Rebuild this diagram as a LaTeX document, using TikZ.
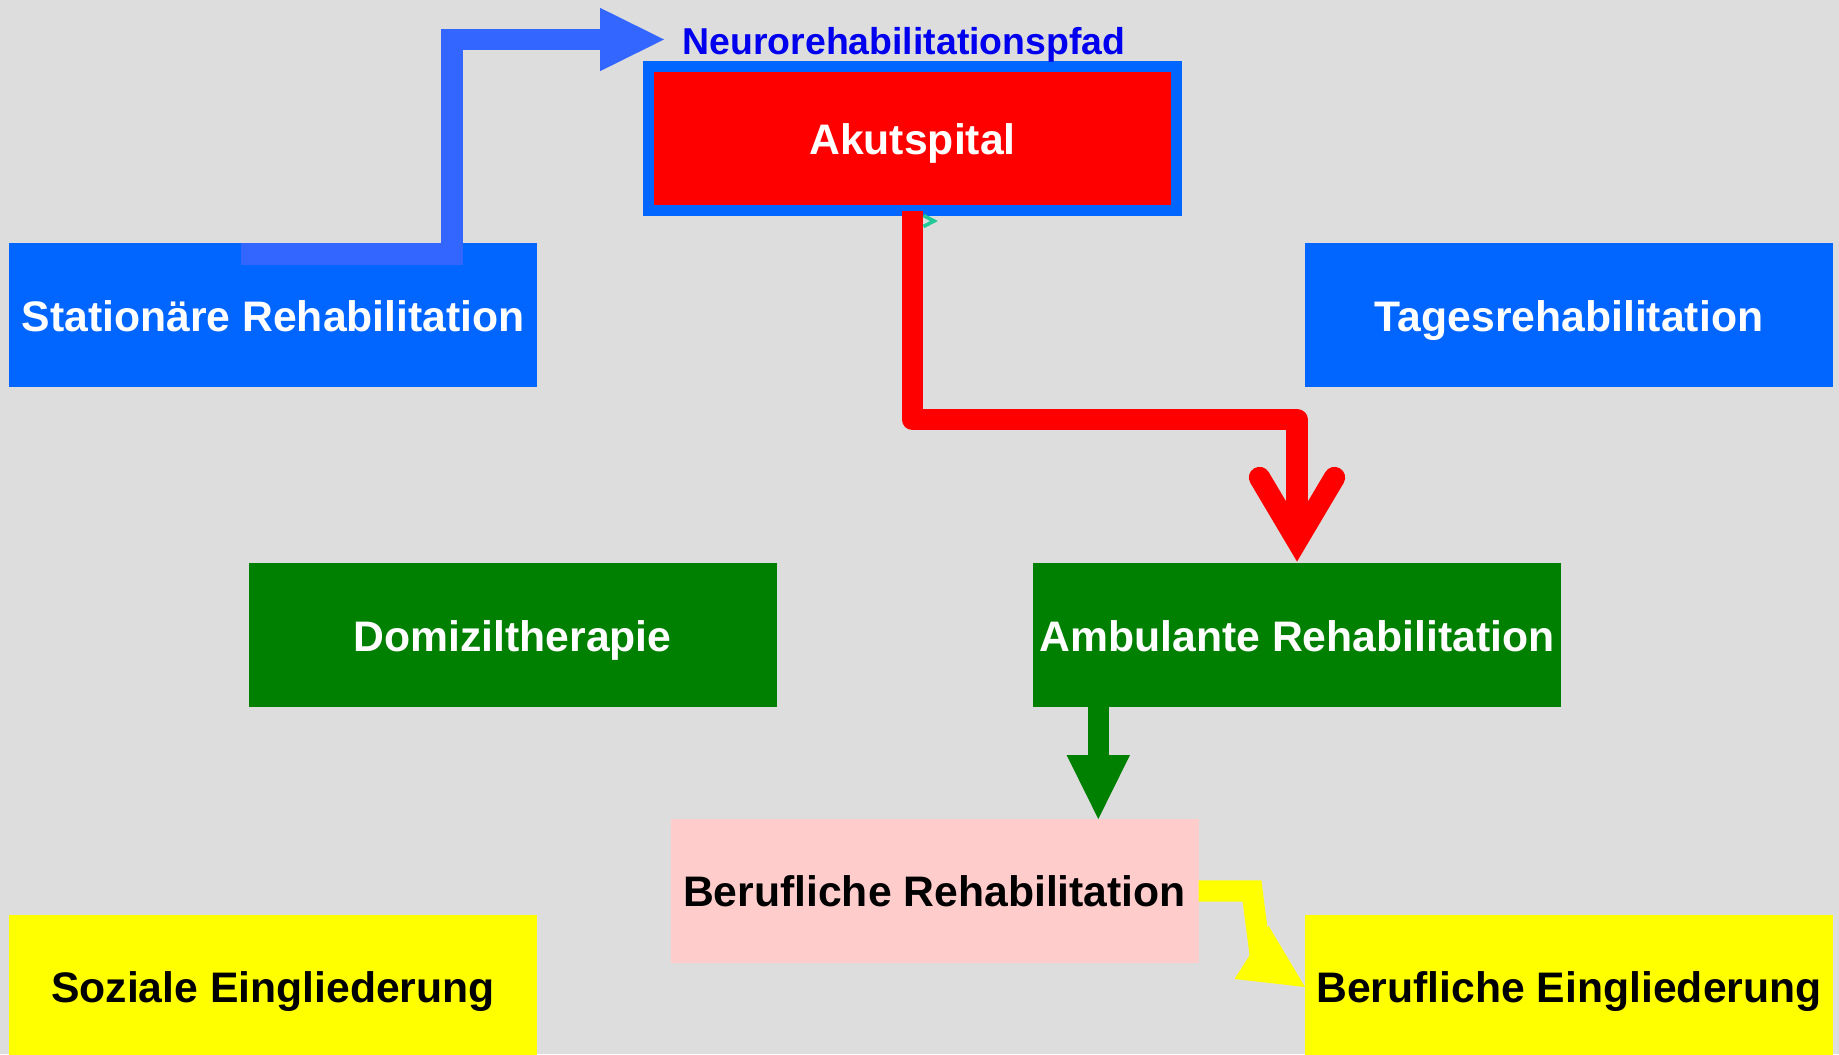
\documentclass[tikz,border=0pt]{standalone}
\usepackage{fontspec}
\setmainfont{Liberation Sans}
\usetikzlibrary{arrows.meta,calc}
\definecolor{bg}{HTML}{DDDDDD}
\definecolor{boxblue}{HTML}{0066FF}
\definecolor{arrblue}{HTML}{3366FF}
\definecolor{txtblue}{HTML}{0000EE}
\definecolor{boxred}{HTML}{FF0000}
\definecolor{boxgreen}{HTML}{008000}
\definecolor{boxpink}{HTML}{FFCCCC}
\definecolor{boxyellow}{HTML}{FFFF00}
\definecolor{tealc}{HTML}{20C997}
\begin{document}
\begin{tikzpicture}[x=0.5pt,y=-0.5pt,
  box/.style={rectangle, inner sep=0pt, outer sep=0pt,
    minimum width=264pt, minimum height=72pt,
    font=\bfseries\fontsize{21.35pt}{25pt}\selectfont,
    text height=16.2pt, text depth=0pt},
  whitebox/.style={box, text=white},
  blackbox/.style={box, text=black, text height=15.2pt},
  yellowbox/.style={blackbox, fill=boxyellow},
  thick shaft/.style={line width=10.65pt},
  head/.style={-{Triangle[length=32pt, width=31.7pt, line width=0pt]}},
  label text/.style={font=\bfseries\fontsize{18.7pt}{22pt}\selectfont,
    text=txtblue, anchor=base west, inner sep=0pt}
]
\fill[bg] (0,0) rectangle (1839,1054);
\useasboundingbox (0,0) rectangle (1839,1054);

% boxes
\node[whitebox, fill=boxblue] (stat) at (273.2,315) {Stationäre Rehabilitation};
\node[whitebox, fill=boxblue] (tages) at (1569,315) {Tagesrehabilitation};
\node[whitebox, fill=boxred, draw=boxblue, line width=5.5pt, text height=16.5pt] (akut) at (912.5,138.5) {Akutspital};
\node[whitebox, fill=boxgreen] (dom) at (512.5,635) {Domiziltherapie};
\node[whitebox, fill=boxgreen] (amb) at (1297,635) {Ambulante Rehabilitation};
\node[blackbox, fill=boxpink] (berreh) at (934.5,891) {Berufliche Rehabilitation};
\node[yellowbox] (soz) at (273,987) {Soziale Eingliederung};
\node[yellowbox] (bereing) at (1569,987) {Berufliche Eingliederung};

% label
\node[label text] (neuro) at (682.3,55) {Neurorehabilitationspfad};

% blue elbow arrow
\coordinate (bstart) at (241,254);
\coordinate (neurotip) at (664,39.5);
\draw[arrblue, thick shaft, line join=miter, head]
  (bstart) -- (452,254) -- (452,39.5) -- (neurotip);

% red arrow
\draw[boxred, thick shaft, line join=round, shorten >=11pt]
  (akut.south) -- ++(0,209) -| (amb.north);
\draw[boxred, thick shaft, line cap=round, line join=miter]
  ($(amb.north)+(-37.5,-85.5)$) -- ($(amb.north)+(0,-22.3)$) -- ($(amb.north)+(37.5,-85.5)$);

% small teal arrow tip
\draw[tealc, line width=1.8pt, line join=miter]
  (923.5,215.5) -- (934,221) -- (923.5,226.5);

% green arrow
\coordinate (gx) at (1098.3,0);
\draw[boxgreen, thick shaft, head] (amb.south -| gx) -- (berreh.north -| gx);

% yellow arrow
\draw[boxyellow, thick shaft, line join=miter]
  (berreh.east) -- (1252,891) -- (1260.5,957);
\fill[boxyellow] (bereing.west) -- ++(-70.5,-8) -- ++(34,-53.3) -- cycle;
\end{tikzpicture}
\end{document}
